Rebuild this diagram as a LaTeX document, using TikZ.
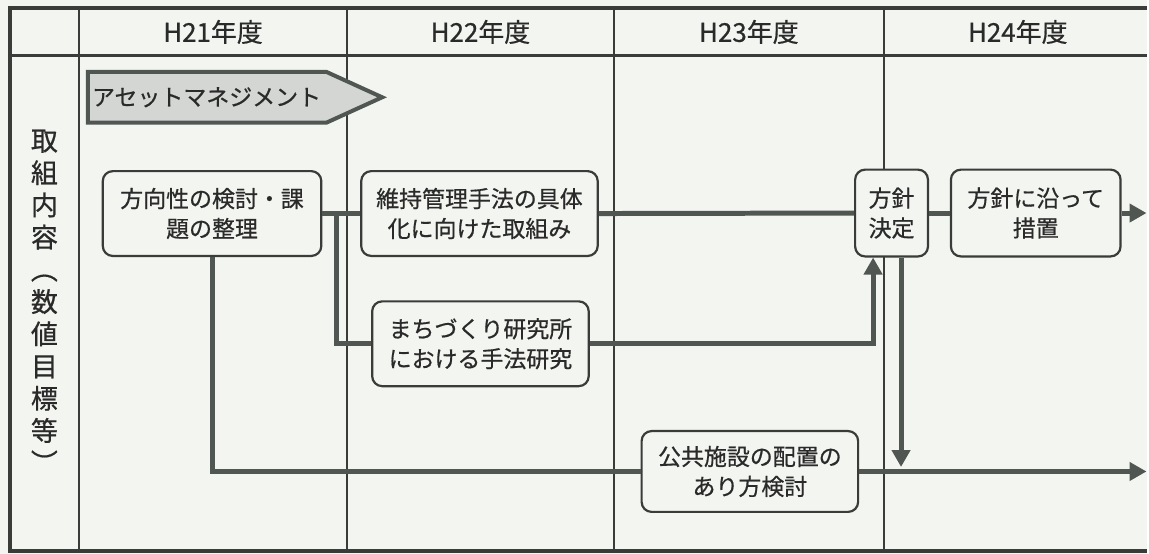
\documentclass[tikz,border=0pt]{standalone}
\usepackage{fontspec}
\setmainfont{Noto Sans CJK JP}[FakeBold=0.6]
\usepackage{xcolor}
\usetikzlibrary{arrows.meta, positioning, calc}

\definecolor{paper}{RGB}{243,245,241}
\definecolor{ink}{RGB}{58,60,58}
\definecolor{pipe}{RGB}{80,86,82}
\definecolor{shade}{RGB}{212,214,212}

\begin{document}
\begin{tikzpicture}[x=1pt, y=-1pt, font=\fontsize{23}{30}\selectfont, text=ink!70!black,
	task/.style={draw=ink, line width=2.2pt, rounded corners=10pt, fill=paper, align=center, inner sep=0pt, minimum height=85pt},
	link/.style={draw=pipe, line width=5pt},
	flow/.style={link, -{Triangle[length=17pt, width=18pt]}},
	year/.style={font=\fontsize{26}{30}\selectfont}]
	\fill[paper]					(0,0) rectangle (1149,555);
	\foreach \x in {79,348,615,886}
		\draw[ink, line width=2pt]		(\x,8) -- (\x,552);
	\draw[ink, line width=3pt]			(10,56) -- (1149,56);
	\draw[ink, line width=4pt]			(1149,8) -- (10,8) -- (10,552) -- (1149,552);
	\foreach \x/\yr in {213.5/21, 481.5/22, 750.5/23, 1020/24}
		\node[year] (h\yr) at (\x,32) {H{\yr}年度};
	\node[align=center, font=\fontsize{27}{32.3}\selectfont] (topic) at (44.5,302) {取\\組\\内\\容\\︵\\数\\値\\目\\標\\等\\︶};
	\filldraw[fill=shade, draw=pipe, line width=4pt]	(88,72) -- (327,72) -- (383,97.5) -- (327,123) -- (88,123) -- cycle;
	\node[font=\fontsize{23}{24}\selectfont] (asset) at (207,97.5) {アセットマネジメント};
	\node[task, minimum width=219pt] (review) at (212.5,214) {方向性の検討・課\\題の整理};
	\node[task, minimum width=237pt] (method) at (480.5,214) {維持管理手法の具体\\化に向けた取組み};
	\node[task, minimum width=217pt] (lab) at (481.5,344.5) {まちづくり研究所\\における手法研究};
	\node[task, minimum width=73pt, minimum height=87pt] (policy) at (893.5,213.5) {方針\\決定};
	\node[task, minimum width=170pt, minimum height=87pt] (apply) at (1038,213.5) {方針に沿って\\措置};
	\node[task, minimum width=217pt, minimum height=81pt] (layout) at (751.5,472.5) {公共施設の配置の\\あり方検討};
	\coordinate (fork) at (337,214);
	\coordinate (down) at (903,468);
	\coordinate (end1) at (1149,213.5);
	\coordinate (end2) at (1149,472.5);
	\draw[link]					(review.east) -- (method.west);
	\draw[link]					(fork) |- (lab.west);
	\draw[link]					(method.east) -- (policy.west);
	\draw[flow]					(lab.east) -| ([xshift=-18.5pt]policy.south);
	\draw[flow]					([xshift=9.5pt]policy.south) -- (down);
	\draw[link]					(policy.east) -- (apply.west);
	\draw[flow]					(apply.east) -- (end1);
	\draw[link]					(review.south) |- (layout.west);
	\draw[flow]					(layout.east) -- (end2);
\end{tikzpicture}
\end{document}
